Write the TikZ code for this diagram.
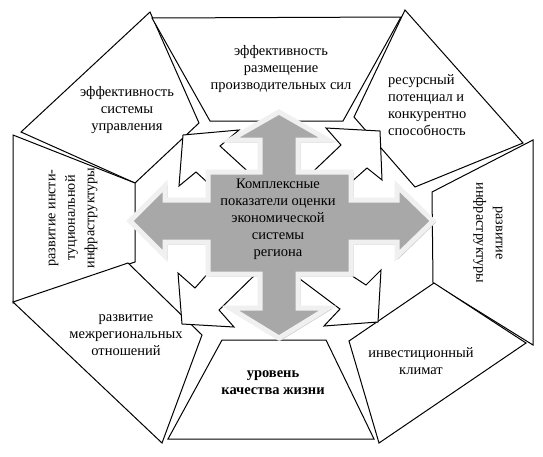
\documentclass[tikz,border=0pt]{standalone}
\usepackage{fontspec}
\setmainfont{Liberation Serif}
\begin{document}
\begin{tikzpicture}[x=1pt,y=-1pt,
  box/.style={draw=black,fill=white,line width=1pt,line join=miter},
  darrow/.style={draw=black,fill=white,line width=1pt,line join=miter},
  quad/.style={draw=gray!12,fill=gray!68,line width=5pt,line join=miter},
  lbl/.style={align=center,font=\fontsize{14.5}{17}\selectfont,inner sep=0pt},
  rlbl/.style={align=center,font=\fontsize{14.2}{19.5}\selectfont,inner sep=0pt}]
\useasboundingbox (0,0) rectangle (543,456);
\fill[white] (0,0) rectangle (543,456);
% outer boxes
\draw[box] (150,12) -- (199,123) -- (135,183) -- (21,132) -- cycle;
\draw[box] (152,18) -- (401,17) -- (343,121) -- (210,121) -- cycle;
\draw[box] (405,10) -- (523,143) -- (415,187) -- (354,117) -- cycle;
\draw[box] (13,135) -- (135,183) -- (135,262) -- (13,303) -- cycle;
\draw[box] (432,192) -- (533,140) -- (533,345) -- (433,283) -- cycle;
\draw[box] (13,302) -- (128,263) -- (202,335) -- (162,443) -- cycle;
\draw[box] (222,340) -- (326,340) -- (374,439) -- (168,439) -- cycle;
\draw[box] (349,341) -- (434,283) -- (526,343) -- (379,443) -- cycle;
% diagonal arrows
\draw[darrow] (183,135) -- (239,130) -- (220,146) -- (255,178) -- (218,192) -- (196,172) -- (179,186) -- cycle;
\draw[darrow] (380,131) -- (382,180) -- (367,168) -- (340,192) -- (300,184) -- (341,145) -- (326,128) -- cycle;
\draw[darrow] (182,324) -- (178,273) -- (195,288) -- (218,262) -- (262,268) -- (219,310) -- (234,327) -- cycle;
\draw[darrow] (378,322) -- (324,326) -- (340,309) -- (296,276) -- (320,255) -- (366,285) -- (381,270) -- cycle;
% central quad arrow
\draw[gray!45,line width=2pt,line join=miter,shift={(1.5,1.5)}]
  (279,112) -- (328,140) -- (298,140) -- (298,172) -- (351,172) -- (351,200) -- (397,200) -- (397,186) -- (433,221) -- (397,256) -- (397,242) -- (351,242) -- (351,274) -- (298,274) -- (298,308) -- (328,308) -- (279,338) -- (230,308) -- (260,308) -- (260,274) -- (208,274) -- (208,242) -- (165,242) -- (165,256) -- (130,221) -- (165,186) -- (165,200) -- (208,200) -- (208,172) -- (260,172) -- (260,140) -- (230,140) -- cycle;
\draw[quad]
  (279,112) -- (328,140) -- (298,140) -- (298,172) -- (351,172) -- (351,200) -- (397,200) -- (397,186) -- (433,221) -- (397,256) -- (397,242) -- (351,242) -- (351,274) -- (298,274) -- (298,308) -- (328,308) -- (279,338) -- (230,308) -- (260,308) -- (260,274) -- (208,274) -- (208,242) -- (165,242) -- (165,256) -- (130,221) -- (165,186) -- (165,200) -- (208,200) -- (208,172) -- (260,172) -- (260,140) -- (230,140) -- cycle;
% labels
\node[lbl] (c) at (278,219) {Комплексные\\показатели оценки\\экономической\\системы\\региона};
\node[lbl] (t) at (281,69) {эффективность\\размещение\\производительных сил};
\node[lbl] (tl) at (127,110) {эффективность\\системы\\управления};
\node[lbl,align=left,anchor=west] (tr) at (388,105) {ресурсный\\потенциал и\\конкурентно\\способность};
\node[rlbl,rotate=90] (l) at (73,218) {развитие инсти-\\туциональной\\инфраструктуры};
\node[rlbl,rotate=-90] (r) at (488,233) {развитие\\инфраструктуры};
\node[lbl] (bl) at (126,335) {развитие\\межрегиональных\\отношений};
\node[lbl,font=\fontsize{14.5}{17}\selectfont\bfseries] (b) at (273,383) {уровень\\качества жизни};
\node[lbl] (br) at (421,361) {инвестиционный\\климат};
\end{tikzpicture}
\end{document}
